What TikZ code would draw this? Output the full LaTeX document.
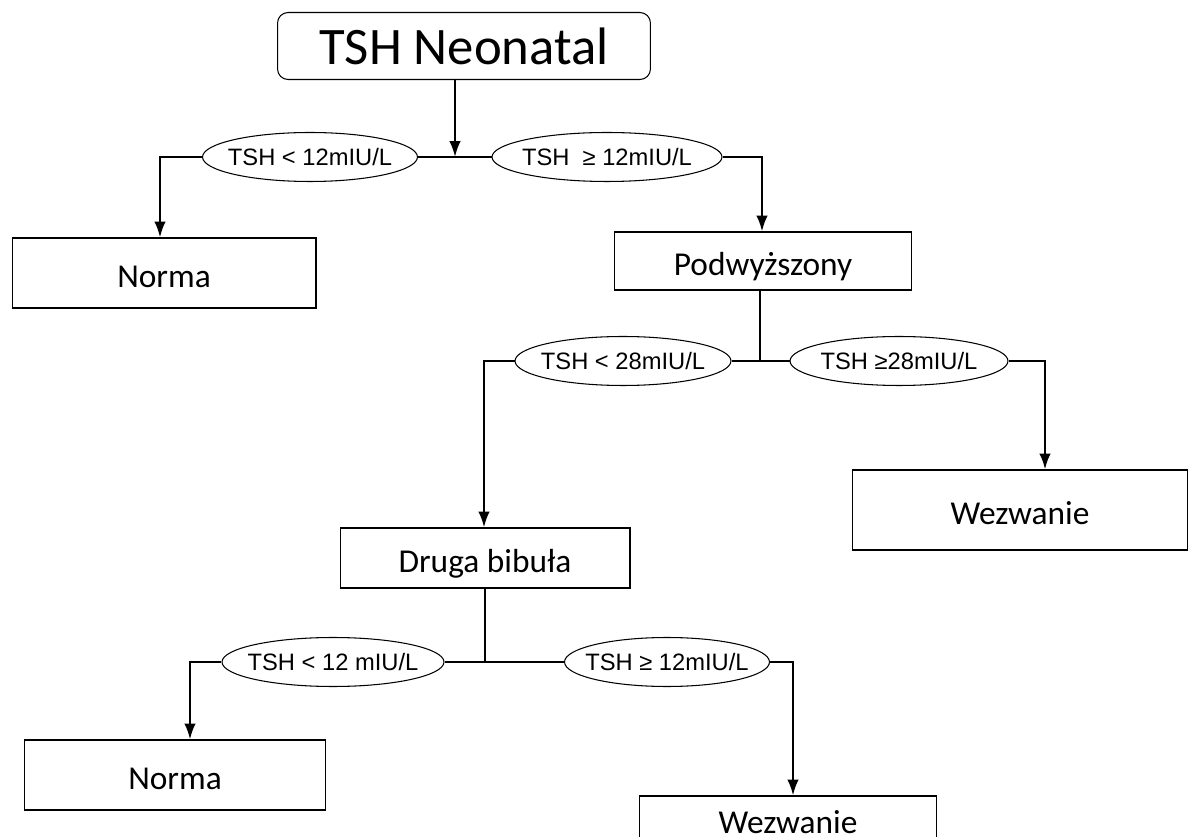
\documentclass[tikz,border=0pt]{standalone}
\usepackage{fontspec}
\setmainfont{Carlito}
\newfontfamily\condfont{Liberation Sans}
\usepackage{tikz}
\usetikzlibrary{shapes.geometric, arrows.meta, positioning, calc}

\begin{document}
\begin{tikzpicture}[x=0.02cm, y=-0.02cm, >={Latex[length=9pt, width=6.5pt]},
    startbox/.style={rectangle, draw, rounded corners=6pt, line width=0.6pt, minimum width=7.46cm, minimum height=1.34cm, font=\fontsize{30}{34}\selectfont},
    result/.style={rectangle, draw, line width=0.6pt, inner sep=0pt, text height=20pt, text depth=4pt, font=\fontsize{19}{22}\selectfont},
    cond/.style={ellipse, draw, line width=0.6pt, inner xsep=-14pt, inner ysep=0pt, minimum height=0.98cm, font=\condfont\fontsize{13.5}{15}\selectfont},
    link/.style={line width=1.3pt}]

    \useasboundingbox (0,0) rectangle (1190,837);
    \clip (0,0) rectangle (1190,837);

    % Nodes
    \node[startbox] (tsh) at (464,46) {TSH Neonatal};

    \node[cond, minimum width=4.3cm] (lt12a) at (310,157) {TSH < 12mIU/L};
    \node[cond, minimum width=4.6cm] (ge12a) at (607,157) {TSH \ ≥ 12mIU/L};
    \node[result, minimum width=6.08cm, minimum height=1.4cm] (norma1) at (164,273) {Norma};
    \node[result, minimum width=5.94cm, minimum height=1.16cm] (podw) at (763,261) {Podwyższony};

    \node[cond, minimum width=4.32cm] (lt28) at (623,361) {TSH < 28mIU/L};
    \node[cond, minimum width=4.36cm] (ge28) at (899,361) {TSH ≥28mIU/L};
    \node[result, minimum width=5.8cm, minimum height=1.2cm] (druga) at (485,558) {Druga bibuła};
    \node[result, minimum width=6.7cm, minimum height=1.6cm] (wez1) at (1020,510) {Wezwanie};

    \node[cond, minimum width=4.44cm] (lt12b) at (333,662) {TSH < 12 mIU/L};
    \node[cond, minimum width=4.1cm] (ge12b) at (667,662) {TSH ≥ 12mIU/L};
    \node[result, minimum width=6.02cm, minimum height=1.4cm] (norma2) at (175,775) {Norma};
    \node[result, text height=13pt, minimum width=5.94cm, minimum height=1.2cm] (wez2) at (788,826) {Wezwanie};

    % Junctions and turns
    \coordinate (j1) at (455,157);
    \coordinate (j2) at (760,361);
    \coordinate (j3) at (485,662);
    \coordinate (t1) at (160,157);
    \coordinate (t2) at (762,157);
    \coordinate (t3) at (484,361);
    \coordinate (t4) at (1045,361);
    \coordinate (t5) at (190,662);
    \coordinate (t6) at (793,662);

    % Flows
    \draw[link, ->] (tsh.south -| j1) -- (j1);
    \draw[link] (lt12a.east) -- (ge12a.west);
    \draw[link, ->] (lt12a.west) -- (t1) -- (norma1.north -| t1);
    \draw[link, ->] (ge12a.east) -- (t2) -- (podw.north -| t2);

    \draw[link] (podw.south -| j2) -- (j2);
    \draw[link] (lt28.east) -- (ge28.west);
    \draw[link, ->] (lt28.west) -- (t3) -- (druga.north -| t3);
    \draw[link, ->] (ge28.east) -- (t4) -- (wez1.north -| t4);

    \draw[link] (druga.south -| j3) -- (j3);
    \draw[link] (lt12b.east) -- (ge12b.west);
    \draw[link, ->] (lt12b.west) -- (t5) -- (norma2.north -| t5);
    \draw[link, ->] (ge12b.east) -- (t6) -- (wez2.north -| t6);
\end{tikzpicture}
\end{document}
